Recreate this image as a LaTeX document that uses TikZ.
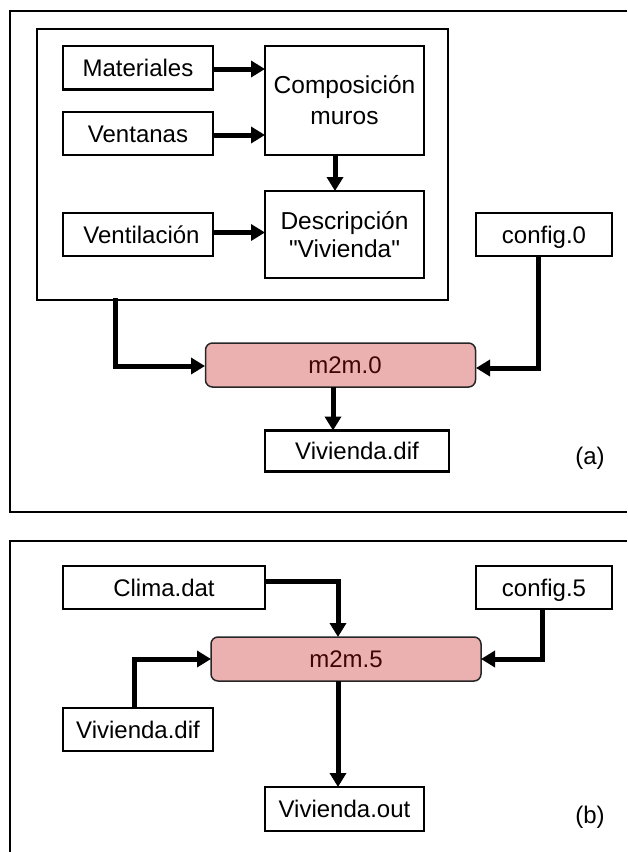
\documentclass[tikz,border=0pt]{standalone}
\usepackage{fontspec}
\setmainfont{Liberation Sans}
\newfontfamily\rawfont{Liberation Sans}
\usetikzlibrary{arrows.meta,positioning}
\definecolor{procfill}{HTML}{EBB0B0}
\definecolor{proctext}{HTML}{3F0505}
\tikzset{
  x=1pt,y=-1pt,
  panel/.style={line width=2.4pt,draw=black,line join=miter},
  filebox/.style={draw=black,fill=white,line width=2.2pt,inner sep=0pt,outer sep=0pt,
    font=\fontsize{24}{28}\selectfont,text height=17.5pt,text depth=0pt},
  textbox/.style={draw=black,fill=white,line width=2.2pt,inner sep=0pt,outer sep=0pt,align=center},
  procbox/.style={draw=black!85,fill=procfill,line width=1.5pt,rounded corners=7pt,inner sep=0pt,outer sep=0pt,
    text=proctext,font=\fontsize{24}{28}\selectfont,text height=17.5pt,text depth=0pt},
  flow/.style={line width=5pt,-{Triangle[length=14pt,width=16pt]},line join=miter},
  tag/.style={inner sep=0pt,font=\fontsize{24}{28}\selectfont}
}
\newcommand{\boxat}[6]{\node[#1,minimum width=#4pt,minimum height=#5pt] (#2) at (#3) {#6};}
\begin{document}
\begin{tikzpicture}
\useasboundingbox (0,0) rectangle (627,852);
% open panels
\draw[panel] (627,11) -- (10,11) -- (10,512) -- (627,512);
\draw[panel] (627,541) -- (10,541) -- (10,852);
% panel (a)
\boxat{draw=black,line width=2.2pt,inner sep=0pt,outer sep=0pt}{inner}{242.5,164.5}{411}{271}{}
\boxat{filebox}{mat}{138,67.8}{150}{43.5}{Materiales}
\boxat{filebox}{ven}{138,133.5}{150}{43}{Ventanas}
\boxat{filebox}{vent}{138,234.5}{150}{43}{\hspace*{7pt}Ventilación}
\boxat{textbox,font=\fontsize{24.5}{31}\selectfont}{comp}{344.5,100.5}{159}{109}{Composición\\muros}
\boxat{textbox,font=\fontsize{24.5}{28}\selectfont}{desc}{344.5,234.5}{159}{87}{Descripción\\{\rawfont"Vivienda"}}
\boxat{filebox}{cfga}{544,234.5}{136}{43}{config.0}
\boxat{procbox}{ma}{340.5,365}{270}{44}{\hspace*{9pt}m2m.0}
\boxat{filebox}{difa}{357,451}{184}{41}{Vivienda.dif}
\node[tag] (laba) at (590,458) {(a)};
\coordinate (ia) at (115,298);
\coordinate (ma1) at (205,366);
\coordinate (ma2) at (476,368);
\draw[flow] ([yshift=-1.2pt]mat.east) -- ([yshift=-1.2pt]mat.east -| comp.west);
\draw[flow] ([yshift=-1.5pt]ven.east) -- ([yshift=-1.5pt]ven.east -| comp.west);
\draw[flow] ([yshift=2pt]vent.east) -- ([yshift=2pt]vent.east -| desc.west);
\draw[flow] ([xshift=-9.5pt]comp.south) -- ([xshift=-9.5pt]desc.north);
\draw[flow] (ia) |- (ma1);
\draw[flow] (cfga.south -| 538,0) |- (ma2);
\draw[flow] (ma.south -| 333,0) -- (difa.north -| 333,0);
% panel (b)
\boxat{filebox}{clima}{164,587.5}{202}{43}{Clima.dat}
\boxat{procbox}{mb}{346,659}{270}{44}{m2m.5}
\boxat{filebox}{difb}{138,729.5}{150}{43}{Vivienda.dif}
\boxat{filebox}{cfgb}{544,587.5}{136}{43}{config.5}
\boxat{filebox}{outb}{344.5,809}{159}{44}{Vivienda.out}
\node[tag] (labb) at (590,817) {(b)};
\coordinate (clo) at (265,581.7);
\draw[flow] (clo) -| (mb.north -| 338,0);
\draw[flow] (difb.north -| 134,0) |- (mb.west);
\draw[flow] (cfgb.south -| 542,0) |- (mb.east);
\draw[flow] (mb.south -| 338,0) -- (outb.north -| 338,0);
\end{tikzpicture}
\end{document}
